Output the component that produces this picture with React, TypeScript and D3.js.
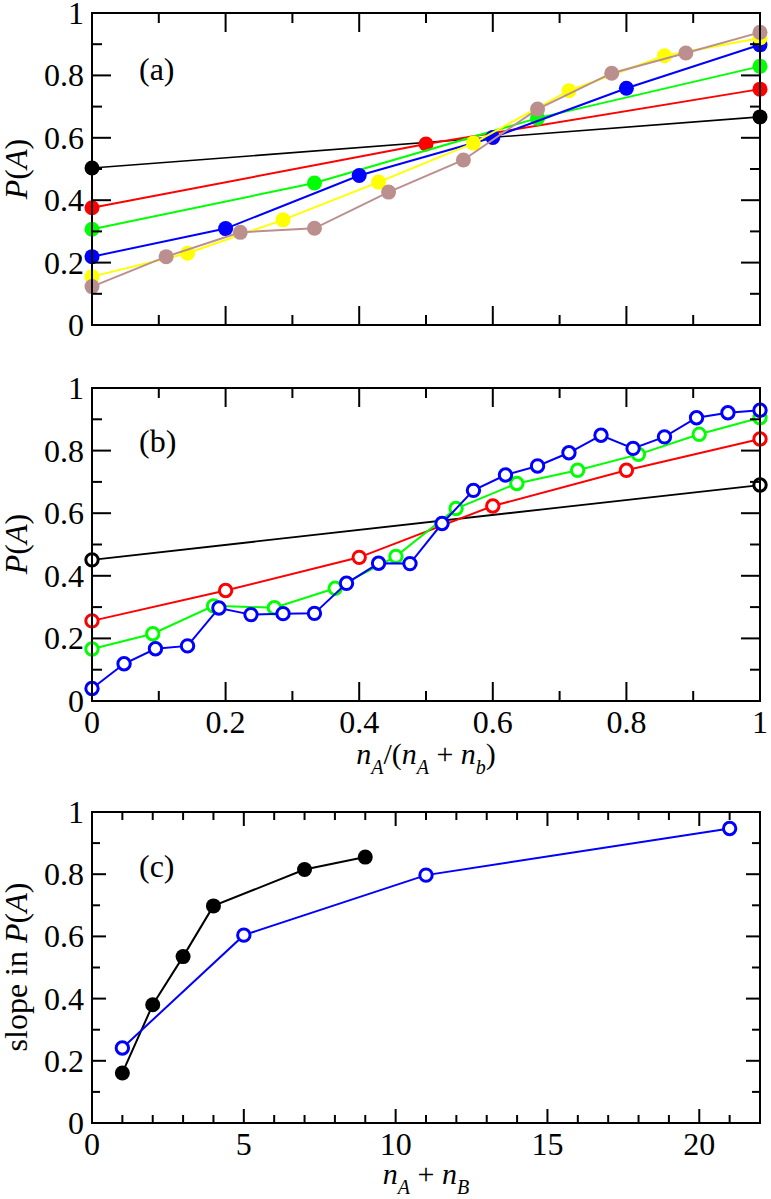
import React from "react";
import * as d3 from "d3";

// ---------- Panel (a) data ----------
const aBlackX = [0, 1];
const aBlackY = [0.503, 0.667];
const aRedX = [0, 0.5, 1];
const aRedY = [0.376, 0.58, 0.756];
const aGreenX = [0, 0.333, 0.667, 1];
const aGreenY = [0.307, 0.455, 0.663, 0.829];
const aBlueX = [0, 0.2, 0.4, 0.6, 0.8, 1];
const aBlueY = [0.219, 0.309, 0.479, 0.601, 0.759, 0.898];
const aYellowX = [0, 0.143, 0.286, 0.429, 0.571, 0.714, 0.857, 1];
const aYellowY = [0.155, 0.23, 0.337, 0.458, 0.583, 0.751, 0.863, 0.92];
const aBrownX = [0, 0.111, 0.222, 0.333, 0.444, 0.556, 0.667, 0.778, 0.889, 1];
const aBrownY = [0.123, 0.219, 0.297, 0.31, 0.426, 0.529, 0.692, 0.807, 0.872, 0.938];

// ---------- Panel (b) data ----------
const bBlackX = [0, 1];
const bBlackY = [0.451, 0.69];
const bRedX = [0, 0.2, 0.4, 0.6, 0.8, 1];
const bRedY = [0.256, 0.353, 0.459, 0.623, 0.737, 0.837];
const bGreenX = [0, 0.091, 0.182, 0.273, 0.364, 0.455, 0.545, 0.636, 0.727, 0.818, 0.909, 1];
const bGreenY = [0.166, 0.215, 0.304, 0.298, 0.36, 0.462, 0.615, 0.695, 0.737, 0.788, 0.852, 0.905];
const bBlueX = [0, 0.048, 0.095, 0.143, 0.19, 0.238, 0.286, 0.333, 0.381, 0.429, 0.476,
  0.524, 0.571, 0.619, 0.667, 0.714, 0.762, 0.81, 0.857, 0.905, 0.952, 1];
const bBlueY = [0.04, 0.119, 0.167, 0.176, 0.297, 0.276, 0.279, 0.28, 0.376, 0.44, 0.439,
  0.567, 0.673, 0.722, 0.751, 0.793, 0.849, 0.807, 0.844, 0.905, 0.921, 0.929];

// ---------- Panel (c) data ----------
const cBlackX = [1, 2, 3, 4, 7, 9];
const cBlackY = [0.161, 0.38, 0.535, 0.698, 0.815, 0.855];
const cBlueX = [1, 5, 11, 21];
const cBlueY = [0.241, 0.604, 0.797, 0.947];

// ---------- Tick labels ----------
const fracTicks = [0, 0.2, 0.4, 0.6, 0.8, 1];
const fracTickLabels = ["0", "0.2", "0.4", "0.6", "0.8", "1"];
const nTicks = [0, 5, 10, 15, 20];
const nTickLabels = ["0", "5", "10", "15", "20"];

const FONT = "'Liberation Serif', 'Times New Roman', Times, serif";
const LEFT = 92;
const RIGHT = 760;

type Series = { x: number[]; y: number[]; color: string; open: boolean; lw: number; r: number };

function zip(xs: number[], ys: number[]): [number, number][] {
  return xs.map((x, i) => [x, ys[i]]);
}

function Frame(props: {
  x: d3.ScaleLinear<number, number>;
  y: d3.ScaleLinear<number, number>;
  xMajor: number[];
  xMinor: number[];
  yMajor: number[];
  yMinor: number[];
  majLen: number;
  minLen: number;
}) {
  const { x, y, xMajor, xMinor, yMajor, yMinor, majLen, minLen } = props;
  const [x0, x1] = x.range();
  const [y0, y1] = y.range(); // y0 bottom, y1 top
  const els: JSX.Element[] = [];
  const tick = (key: string, a: number, b: number, c: number, d: number) =>
    els.push(<line key={key} x1={a} y1={b} x2={c} y2={d} stroke="#000" strokeWidth={2} />);
  xMinor.forEach((v, i) => {
    const px = x(v);
    tick("xmb" + i, px, y0, px, y0 - minLen);
    tick("xmt" + i, px, y1, px, y1 + minLen);
  });
  xMajor.forEach((v, i) => {
    const px = x(v);
    tick("xMb" + i, px, y0, px, y0 - majLen);
    tick("xMt" + i, px, y1, px, y1 + majLen);
  });
  yMinor.forEach((v, i) => {
    const py = y(v);
    tick("yml" + i, x0, py, x0 + minLen, py);
    tick("ymr" + i, x1, py, x1 - minLen, py);
  });
  yMajor.forEach((v, i) => {
    const py = y(v);
    tick("yMl" + i, x0, py, x0 + majLen, py);
    tick("yMr" + i, x1, py, x1 - majLen, py);
  });
  return (
    <g>
      {els}
      <rect x={x0} y={y1} width={x1 - x0} height={y0 - y1} fill="none" stroke="#000" strokeWidth={2} />
    </g>
  );
}

function SeriesG(props: { s: Series; x: d3.ScaleLinear<number, number>; y: d3.ScaleLinear<number, number> }) {
  const { s, x, y } = props;
  const pts = zip(s.x, s.y);
  const line = d3
    .line<[number, number]>()
    .x((d) => x(d[0]))
    .y((d) => y(d[1]));
  return (
    <g>
      <path d={line(pts) || ""} fill="none" stroke={s.color} strokeWidth={s.lw} />
      {pts.map((p, i) =>
        s.open ? (
          <circle key={i} cx={x(p[0])} cy={y(p[1])} r={s.r} fill="#fff" stroke={s.color} strokeWidth={3} />
        ) : (
          <circle key={i} cx={x(p[0])} cy={y(p[1])} r={s.r} fill={s.color} />
        )
      )}
    </g>
  );
}

function YTickLabels(props: { y: d3.ScaleLinear<number, number>; ticks: number[]; labels: string[] }) {
  return (
    <g fontFamily={FONT} fontSize={32} textAnchor="end">
      {props.ticks.map((t, i) => (
        <text key={i} x={LEFT - 8} y={props.y(t) + 11}>
          {props.labels[i]}
        </text>
      ))}
    </g>
  );
}

function XTickLabels(props: { x: d3.ScaleLinear<number, number>; ticks: number[]; labels: string[]; base: number }) {
  return (
    <g fontFamily={FONT} fontSize={32} textAnchor="middle">
      {props.ticks.map((t, i) => (
        <text key={i} x={props.x(t)} y={props.base}>
          {props.labels[i]}
        </text>
      ))}
    </g>
  );
}

function PALabel(props: { cy: number; prefix?: string }) {
  return (
    <text
      transform={`translate(27,${props.cy}) rotate(-90)`}
      textAnchor="middle"
      fontFamily={FONT}
      fontSize={32}
    >
      {props.prefix ? <tspan>{props.prefix}</tspan> : null}
      <tspan fontStyle="italic">P</tspan>
      <tspan>(</tspan>
      <tspan fontStyle="italic">A</tspan>
      <tspan>)</tspan>
    </text>
  );
}

export default function App() {
  const fx = d3.scaleLinear().domain([0, 1]).range([LEFT, RIGHT]);
  const ya = d3.scaleLinear().domain([0, 1]).range([325, 13]);
  const yb = d3.scaleLinear().domain([0, 1]).range([701, 388]);
  const xc = d3.scaleLinear().domain([0, 22]).range([LEFT, RIGHT]);
  const yc = d3.scaleLinear().domain([0, 1]).range([1123, 812]);

  const fracMinor = d3.range(0.1, 1, 0.2);
  const yMinor = d3.range(0.1, 1, 0.2);
  const nMinor = d3.range(1, 22, 1).filter((v) => v % 5 !== 0);

  const aSeries: Series[] = [
    { x: aBlackX, y: aBlackY, color: "#000000", open: false, lw: 1.6, r: 7.5 },
    { x: aRedX, y: aRedY, color: "#ff0000", open: false, lw: 2, r: 7.5 },
    { x: aGreenX, y: aGreenY, color: "#00ff00", open: false, lw: 2, r: 7.5 },
    { x: aBlueX, y: aBlueY, color: "#0000ff", open: false, lw: 2, r: 7.5 },
    { x: aYellowX, y: aYellowY, color: "#ffff00", open: false, lw: 2, r: 7.5 },
    { x: aBrownX, y: aBrownY, color: "#bc8f8f", open: false, lw: 2, r: 7.5 },
  ];
  const bSeries: Series[] = [
    { x: bBlackX, y: bBlackY, color: "#000000", open: true, lw: 1.8, r: 6.2 },
    { x: bRedX, y: bRedY, color: "#ff0000", open: true, lw: 2, r: 6.2 },
    { x: bGreenX, y: bGreenY, color: "#00ff00", open: true, lw: 2, r: 6.2 },
    { x: bBlueX, y: bBlueY, color: "#0000ff", open: true, lw: 2, r: 6.2 },
  ];
  const cSeries: Series[] = [
    { x: cBlackX, y: cBlackY, color: "#000000", open: false, lw: 2, r: 7.5 },
    { x: cBlueX, y: cBlueY, color: "#0000ff", open: true, lw: 2, r: 6.2 },
  ];

  return (
    <svg
      width={771}
      height={1199}
      style={{ position: "absolute", left: 0, top: 0, background: "#fff" }}
    >
      <rect x={0} y={0} width={771} height={1199} fill="#fff" />

      {/* Panel (a) */}
      {aSeries.map((s, i) => (
        <SeriesG key={i} s={s} x={fx} y={ya} />
      ))}
      <Frame x={fx} y={ya} xMajor={fracTicks} xMinor={fracMinor} yMajor={fracTicks} yMinor={yMinor} majLen={19} minLen={10} />
      <YTickLabels y={ya} ticks={fracTicks} labels={fracTickLabels} />
      <PALabel cy={169} />
      <text x={139} y={80} fontFamily={FONT} fontSize={32}>(a)</text>

      {/* Panel (b) */}
      {bSeries.map((s, i) => (
        <SeriesG key={i} s={s} x={fx} y={yb} />
      ))}
      <Frame x={fx} y={yb} xMajor={fracTicks} xMinor={fracMinor} yMajor={fracTicks} yMinor={yMinor} majLen={19} minLen={10} />
      <YTickLabels y={yb} ticks={fracTicks} labels={fracTickLabels} />
      <XTickLabels x={fx} ticks={fracTicks} labels={fracTickLabels} base={733} />
      <PALabel cy={544} />
      <text x={139} y={452} fontFamily={FONT} fontSize={32}>(b)</text>
      <text x={426} y={764} textAnchor="middle" fontFamily={FONT} fontSize={30}>
        <tspan fontStyle="italic">n</tspan>
        <tspan fontStyle="italic" fontSize={20} dy={10}>A</tspan>
        <tspan dy={-10}>/(</tspan>
        <tspan fontStyle="italic">n</tspan>
        <tspan fontStyle="italic" fontSize={20} dy={10}>A</tspan>
        <tspan dy={-10}> + </tspan>
        <tspan fontStyle="italic">n</tspan>
        <tspan fontStyle="italic" fontSize={20} dy={10}>b</tspan>
        <tspan dy={-10}>)</tspan>
      </text>

      {/* Panel (c) */}
      {cSeries.map((s, i) => (
        <SeriesG key={i} s={s} x={xc} y={yc} />
      ))}
      <Frame x={xc} y={yc} xMajor={nTicks} xMinor={nMinor} yMajor={fracTicks} yMinor={yMinor} majLen={14} minLen={8} />
      <YTickLabels y={yc} ticks={fracTicks} labels={fracTickLabels} />
      <XTickLabels x={xc} ticks={nTicks} labels={nTickLabels} base={1155} />
      <PALabel cy={967} prefix="slope in " />
      <text x={139} y={877} fontFamily={FONT} fontSize={32}>(c)</text>
      <text x={426} y={1184} textAnchor="middle" fontFamily={FONT} fontSize={30}>
        <tspan fontStyle="italic">n</tspan>
        <tspan fontStyle="italic" fontSize={20} dy={10}>A</tspan>
        <tspan dy={-10}> + </tspan>
        <tspan fontStyle="italic">n</tspan>
        <tspan fontStyle="italic" fontSize={20} dy={10}>B</tspan>
      </text>
    </svg>
  );
}
